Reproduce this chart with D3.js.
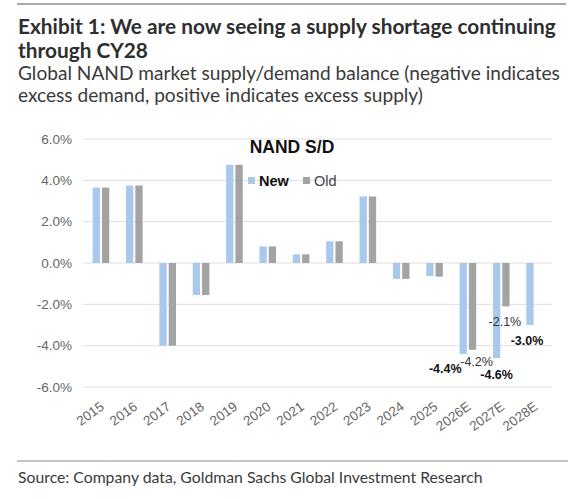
<!DOCTYPE html>
<html>
<head>
<meta charset="utf-8">
<script src="https://cdn.jsdelivr.net/npm/d3@7"></script>
<style>
  html, body { margin: 0; padding: 0; background: #fff; }
  svg { display: block; }
</style>
</head>
<body>
<svg id="chart" width="568" height="499"></svg>
<script>
// ---- data ----
const categories = ["2015","2016","2017","2018","2019","2020","2021","2022","2023","2024","2025","2026E","2027E","2028E"];
const newValues = [3.65, 3.75, -4.0, -1.55, 4.75, 0.8, 0.42, 1.05, 3.22, -0.77, -0.63, -4.4, -4.6, -3.0];
const oldValues = [3.65, 3.75, -4.0, -1.55, 4.75, 0.8, 0.42, 1.05, 3.22, -0.77, -0.66, -4.2, -2.1, null];
const yTickValues = [-6, -4, -2, 0, 2, 4, 6];
const seriesNames = ["New", "Old"];
const labelledPoints = [
  { category: "2026E", series: "New", value: -4.4 },
  { category: "2026E", series: "Old", value: -4.2 },
  { category: "2027E", series: "New", value: -4.6 },
  { category: "2027E", series: "Old", value: -2.1 },
  { category: "2028E", series: "New", value: -3.0 }
];
const titleLines = ["Exhibit 1: We are now seeing a supply shortage continuing", "through CY28"];
const subtitleLines = ["Global NAND market supply/demand balance (negative indicates", "excess demand, positive indicates excess supply)"];
const chartTitle = "NAND S/D";
const sourceText = "Source: Company data, Goldman Sachs Global Investment Research";

// ---- styling / layout ----
const colors = { New: "#a9c9ec", Old: "#a3a3a3" };
const headFont = "Lato, 'Open Sans', sans-serif";
const chartFont = "'Liberation Sans', Arial, sans-serif";
const pct = d => d.toFixed(1) + "%";

const svg = d3.select("#chart");

function fitText(sel, width) {
  const node = sel.node();
  const fs = parseFloat(sel.attr("font-size"));
  const w = node.getComputedTextLength();
  if (w > 0) sel.attr("font-size", (fs * width / w).toFixed(2));
}

// top rule
svg.append("line").attr("x1", 17).attr("x2", 566).attr("y1", 4).attr("y2", 4)
  .attr("stroke", "#8c8c8c").attr("stroke-width", 1.5);

// title
const t1 = svg.append("text").attr("x", 18).attr("y", 33.5).attr("font-family", headFont)
  .attr("font-weight", 700).attr("font-size", 18).attr("fill", "#2e2e2e").text(titleLines[0]);
fitText(t1, 538);
svg.append("text").attr("x", 18).attr("y", 57.5).attr("font-family", headFont)
  .attr("font-weight", 700).attr("font-size", t1.attr("font-size")).attr("fill", "#2e2e2e").text(titleLines[1]);

const s1 = svg.append("text").attr("x", 18).attr("y", 80).attr("font-family", headFont)
  .attr("font-size", 17).attr("fill", "#3a3a3a").text(subtitleLines[0]);
fitText(s1, 542);
svg.append("text").attr("x", 18).attr("y", 102).attr("font-family", headFont)
  .attr("font-size", s1.attr("font-size")).attr("fill", "#3a3a3a").text(subtitleLines[1]);

// bottom rule & source
svg.append("line").attr("x1", 17).attr("x2", 568).attr("y1", 461).attr("y2", 461)
  .attr("stroke", "#8c8c8c").attr("stroke-width", 1.2);
const src = svg.append("text").attr("x", 18).attr("y", 483).attr("font-family", headFont)
  .attr("font-size", 15).attr("fill", "#3a3a3a").text(sourceText);
fitText(src, 465);

// ---- scales ----
const plotLeft = 83, plotRight = 552;
const x = d3.scaleBand().domain(categories).range([plotLeft + 2, plotRight]).padding(0);
const y = d3.scaleLinear().domain([-6, 6]).range([387, 139]);

// gridlines
svg.append("g").selectAll("line").data(yTickValues).join("line")
  .attr("x1", plotLeft).attr("x2", plotRight)
  .attr("y1", d => y(d)).attr("y2", d => y(d))
  .attr("stroke", "#dedede").attr("stroke-width", 1);

// y axis labels
const yAxis = d3.axisLeft(y).tickValues(yTickValues).tickSize(0).tickPadding(0).tickFormat(pct);
const yg = svg.append("g").attr("transform", `translate(72,0)`).call(yAxis);
yg.select(".domain").remove();
yg.selectAll("text").attr("font-family", chartFont).attr("font-size", 13.5).attr("fill", "#666");

// x axis labels
const xAxis = d3.axisBottom(x).tickSize(0).tickPadding(0);
const xg = svg.append("g").attr("transform", `translate(0,408.5)`).call(xAxis);
xg.select(".domain").remove();
xg.selectAll(".tick text")
  .attr("font-family", chartFont).attr("font-size", 13.5).attr("fill", "#666")
  .attr("text-anchor", "end").attr("y", 0).attr("dy", 0)
  .attr("transform", "translate(3.3,0) rotate(-36)");

// bars
const barW = 7.3;
const barOffset = { New: -9, Old: 0.3 };
const rows = categories.map((c, i) => ({ c, New: newValues[i], Old: oldValues[i] }));
seriesNames.forEach(s => {
  svg.append("g").selectAll("rect").data(rows.filter(r => r[s] !== null)).join("rect")
    .attr("x", r => x(r.c) + x.bandwidth() / 2 + barOffset[s])
    .attr("width", barW)
    .attr("y", r => Math.min(y(r[s]), y(0)))
    .attr("height", r => Math.abs(y(r[s]) - y(0)))
    .attr("fill", colors[s]);
});

// data labels
const labelStyle = {
  "2026E|New": { dx: -18, dy: 19, bold: true },
  "2026E|Old": { dx: 4, dy: 16, bold: false },
  "2027E|New": { dx: 0, dy: 21, bold: true },
  "2027E|Old": { dx: -1, dy: 20, bold: false },
  "2028E|New": { dx: -3, dy: 20, bold: true }
};
svg.append("g").selectAll("text").data(labelledPoints).join("text")
  .each(function(d) {
    const st = labelStyle[d.category + "|" + d.series];
    const cx = x(d.category) + x.bandwidth() / 2 + barOffset[d.series] + barW / 2 + st.dx;
    d3.select(this)
      .attr("x", cx).attr("y", y(d.value) + st.dy)
      .attr("text-anchor", "middle")
      .attr("font-family", chartFont)
      .attr("font-size", 12.5)
      .attr("font-weight", st.bold ? 700 : 400)
      .attr("fill", st.bold ? "#111" : "#333")
      .text(pct(d.value));
  });

// chart title and legend
svg.append("text").attr("x", 292).attr("y", 152.5).attr("text-anchor", "middle")
  .attr("font-family", chartFont).attr("font-weight", 700).attr("font-size", 17.5)
  .attr("fill", "#111").text(chartTitle);

const legendPos = { New: 248, Old: 303 };
seriesNames.forEach(s => {
  svg.append("rect").attr("x", legendPos[s]).attr("y", 177).attr("width", 7).attr("height", 7)
    .attr("fill", colors[s]);
  svg.append("text").attr("x", legendPos[s] + 11).attr("y", 186)
    .attr("font-family", chartFont).attr("font-size", 14.5)
    .attr("font-weight", s === "New" ? 700 : 400)
    .attr("fill", s === "New" ? "#111" : "#444").text(s);
});
</script>
</body>
</html>
